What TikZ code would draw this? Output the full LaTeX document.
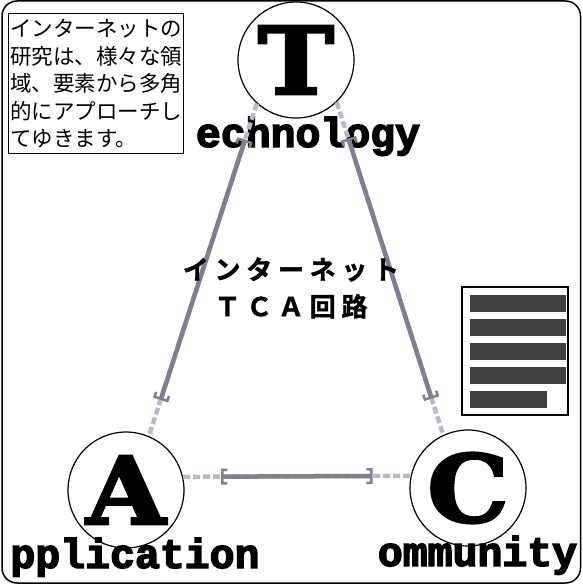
\documentclass[tikz,border=0pt]{standalone}
\usepackage{fontspec}
\setmainfont{Liberation Sans}
\newfontfamily\jpfont{Noto Sans CJK JP}
\newfontfamily\jptitle[LetterSpace=22,FakeBold=1.5]{Noto Sans CJK JP Bold}
\newfontfamily\wordfont[FakeBold=3.5]{Liberation Mono Bold}
\newfontfamily\capfont[FakeBold=3,FakeStretch=1.1]{DejaVu Serif Bold}
\usetikzlibrary{arrows.meta, positioning}
\definecolor{linkGray}{RGB}{128,126,144}
\definecolor{plugGray}{RGB}{186,186,198}
\definecolor{barDark}{RGB}{64,64,64}
\tikzset{
  hub/.style={circle, draw, line width=1.2pt, minimum size=116pt, inner sep=0pt, font=\capfont\fontsize{93}{93}\selectfont},
  word/.style={anchor=base, inner sep=0pt, font=\wordfont\fontsize{41.5}{41.5}\selectfont},
  plug/.style={plugGray, line width=4.5pt, dash pattern=on 7pt off 3pt},
  link/.style={linkGray, line width=4.5pt, shorten <=38pt, shorten >=38pt,
    arrows={Bracket[width=16pt,length=5pt,line width=2.5pt]-Bracket[width=16pt,length=5pt,line width=2.5pt]}}
}

\begin{document}
\begin{tikzpicture}[x=1pt, y=-1pt]
      \useasboundingbox (0,0) rectangle (582,585);
      \draw[line width=1.5pt, rounded corners=15pt] (2,1) rectangle (580.5,583);

      % the three hubs
      \node[hub] (T) at (296,60) {T};
      \node[hub] (A) at (126,490) {A};
      \node[hub] (C) at (468,488) {C};
      \node[word] (techWord) at (308,147) {echnology};
      \node[word] (applWord) at (135,568) {pplication};
      \node[word] (commWord) at (477.5,566) {ommunity};

      % links between hubs
      \draw[plug] (T.228) -- (A.67);
      \draw[link] (T.228) -- (A.67);
      \draw[plug] (T.314) -- (C.115);
      \draw[link] (T.314) -- (C.115);
      \draw[plug] (A.13) -- (C.168);
      \draw[link] (A.13) -- (C.168);

      \node[align=center, inner sep=0pt, font=\jptitle\fontsize{26}{37}\selectfont] (title) at (291,288) {インターネット\\ＴＣＡ回路};

      \node[draw, line width=1.2pt, anchor=north west, minimum width=175pt, minimum height=140pt, inner sep=1.5pt, align=left, font=\jpfont\fontsize{21.5}{27.5}\selectfont] (intro) at (8,13) {インターネットの\\研究は、様々な領\\域、要素から多角\\的にアプローチし\\てゆきます。};

      % document icon
      \node[draw, line width=1.5pt, minimum width=106pt, minimum height=128pt] (doc) at (515,351) {};
      \foreach \i in {0,...,3}
        \fill[barDark] (470,295+24*\i) rectangle (566,312+24*\i);
      \fill[barDark] (470,391) rectangle (547,408);
\end{tikzpicture}
\end{document}
